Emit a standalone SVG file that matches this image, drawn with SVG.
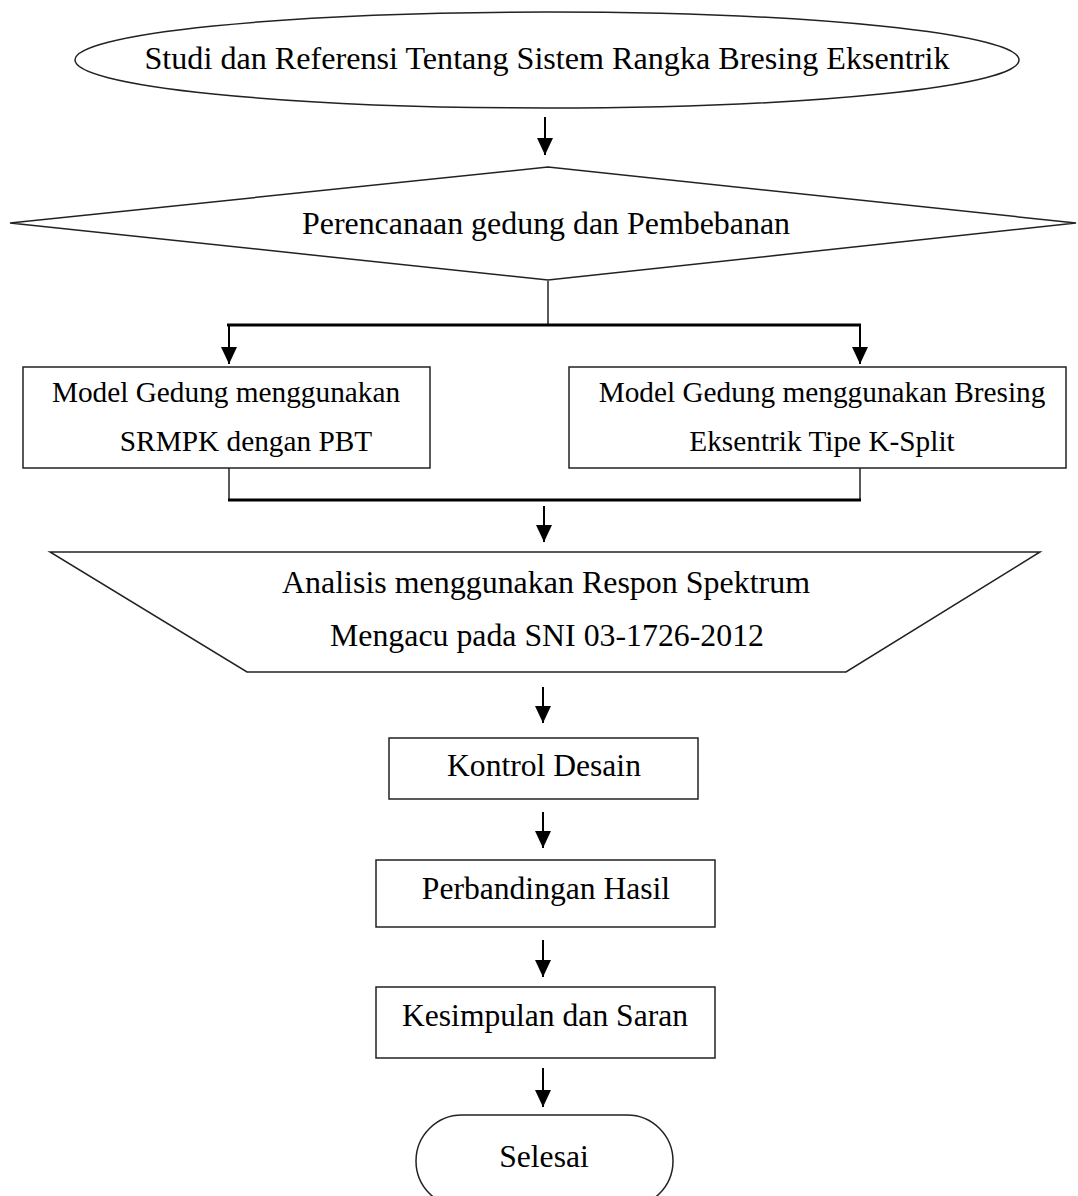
<svg xmlns="http://www.w3.org/2000/svg" width="1078" height="1196" viewBox="0 0 1078 1196">
<style>
.s{fill:#fff;stroke:#222;stroke-width:1.5}
.t{font-family:"Liberation Serif","Times New Roman",serif;fill:#000;text-anchor:middle}
.c{fill:none;stroke:#000;stroke-width:2}
.w{fill:none;stroke:#000;stroke-width:3}
.n{fill:none;stroke:#222;stroke-width:1.5}
</style>
<defs>
<marker id="ah" markerUnits="userSpaceOnUse" markerWidth="16" markerHeight="18" refX="8" refY="17" orient="0" viewBox="0 0 16 18">
<path d="M0,0 L16,0 L8,17 z" fill="#000"/>
</marker>
</defs>
<rect width="1078" height="1196" fill="#fff"/>
<g id="connectors">
<path class="c" d="M545 117 V155" marker-end="url(#ah)"/>
<path class="n" d="M548 281 V325"/>
<path class="w" d="M227 325 H861"/>
<path class="c" d="M229 325 V364" marker-end="url(#ah)"/>
<path class="c" d="M860 325 V364" marker-end="url(#ah)"/>
<path class="n" d="M229 468 V500"/>
<path class="n" d="M860 468 V500"/>
<path class="w" d="M228 500 H861"/>
<path class="c" d="M544 506 V542" marker-end="url(#ah)"/>
<path class="c" d="M543 687 V723" marker-end="url(#ah)"/>
<path class="c" d="M543 812 V848" marker-end="url(#ah)"/>
<path class="c" d="M543 940 V977" marker-end="url(#ah)"/>
<path class="c" d="M543 1068 V1107" marker-end="url(#ah)"/>
</g>
<g id="start">
<ellipse class="s" cx="547" cy="60" rx="472" ry="48"/>
<text class="t" x="547" y="69" font-size="32" textLength="805" lengthAdjust="spacingAndGlyphs">Studi dan Referensi Tentang Sistem Rangka Bresing Eksentrik</text>
</g>
<g id="perencanaan">
<polygon class="s" points="10,223 548,167 1076,223 548,280"/>
<text class="t" x="546" y="234" font-size="32" textLength="488" lengthAdjust="spacingAndGlyphs">Perencanaan gedung dan Pembebanan</text>
</g>
<g id="model-srmpk">
<rect class="s" x="23" y="367" width="407" height="101"/>
<text class="t" x="226" y="402" font-size="29.3">Model Gedung menggunakan</text>
<text class="t" x="246" y="451" font-size="29.3">SRMPK dengan PBT</text>
</g>
<g id="model-bresing">
<rect class="s" x="569" y="367" width="497" height="101"/>
<text class="t" x="822" y="402" font-size="29.3">Model Gedung menggunakan Bresing</text>
<text class="t" x="822" y="451" font-size="29.3">Eksentrik Tipe K-Split</text>
</g>
<g id="analisis">
<polygon class="s" points="50,552 1040,552 846,672 247,672"/>
<text class="t" x="546" y="593" font-size="32" textLength="528" lengthAdjust="spacingAndGlyphs">Analisis menggunakan Respon Spektrum</text>
<text class="t" x="547" y="646" font-size="32" textLength="434" lengthAdjust="spacingAndGlyphs">Mengacu pada SNI 03-1726-2012</text>
</g>
<g id="kontrol">
<rect class="s" x="389" y="738" width="309" height="61"/>
<text class="t" x="544" y="776" font-size="31.6">Kontrol Desain</text>
</g>
<g id="perbandingan">
<rect class="s" x="376" y="860" width="339" height="67"/>
<text class="t" x="546" y="899" font-size="31.6">Perbandingan Hasil</text>
</g>
<g id="kesimpulan">
<rect class="s" x="376" y="987" width="339" height="71"/>
<text class="t" x="545" y="1026" font-size="31.6">Kesimpulan dan Saran</text>
</g>
<g id="selesai">
<rect class="s" x="416" y="1115" width="257" height="92" rx="46" ry="46"/>
<text class="t" x="544" y="1167" font-size="31.6">Selesai</text>
</g>
</svg>
